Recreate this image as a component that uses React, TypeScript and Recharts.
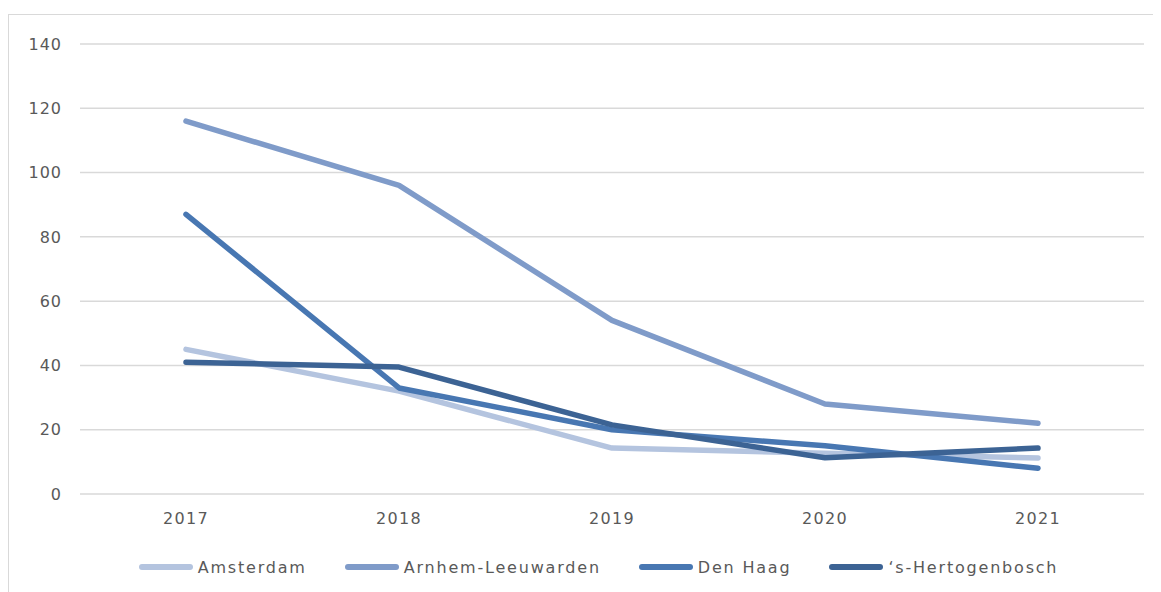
import React from 'react';
import { LineChart, Line, XAxis, YAxis, CartesianGrid, Legend } from 'recharts';

const years = ['2017', '2018', '2019', '2020', '2021'];
const amsterdam = [45, 32, 14.3, 12.7, 11.2];
const arnhemLeeuwarden = [116, 96, 54, 28, 22];
const denHaag = [87, 33, 20, 15, 8];
const hertogenbosch = [41, 39.5, 21.5, 11.3, 14.3];
const yTicks = [0, 20, 40, 60, 80, 100, 120, 140];

const seriesList = [
  { key: 'amsterdam', name: 'Amsterdam', color: '#b4c4df' },
  { key: 'arnhem', name: 'Arnhem-Leeuwarden', color: '#7f9bc9' },
  { key: 'denhaag', name: 'Den Haag', color: '#4877b2' },
  { key: 'hertogenbosch', name: '‘s-Hertogenbosch', color: '#3c6394' }
];

const data = years.map((year, i) => ({
  year,
  amsterdam: amsterdam[i],
  arnhem: arnhemLeeuwarden[i],
  denhaag: denHaag[i],
  hertogenbosch: hertogenbosch[i]
}));

const font = '"DejaVu Sans", Verdana, sans-serif';

const renderLegend = () => (
  <div
    style={{
      display: 'flex',
      justifyContent: 'center',
      alignItems: 'center',
      height: 24,
      paddingLeft: 44,
      fontFamily: font,
      fontSize: 16,
      letterSpacing: 1.8,
      color: '#595959'
    }}
  >
    {seriesList.map((s) => (
      <div key={s.key} style={{ display: 'flex', alignItems: 'center', margin: '0 19px' }}>
        <div style={{ width: 54, height: 6, borderRadius: 3, background: s.color, marginRight: 5 }} />
        <span>{s.name}</span>
      </div>
    ))}
  </div>
);

export default function App() {
  return (
    <div style={{ width: 1153, height: 584, overflow: 'hidden' }}>
      <div
        style={{
          marginTop: 6,
          borderTop: '1px solid #d9d9d9',
          borderLeft: '1px solid #d9d9d9',
          width: 1152,
          height: 578,
          background: '#fff'
        }}
      >
        <LineChart
          width={1152}
          height={577}
          data={data}
          margin={{ top: 29, right: 17, left: 0, bottom: 13 }}
        >
          <CartesianGrid vertical={false} stroke="#d9d9d9" strokeWidth={1.5} />
          <XAxis
            dataKey="year"
            axisLine={false}
            tickLine={false}
            height={61}
            tickMargin={13}
            padding={{ left: 106, right: 106 }}
            tick={{ fill: '#595959', fontSize: 16, fontFamily: font, letterSpacing: 1.3 }}
          />
          <YAxis
            domain={[0, 140]}
            ticks={yTicks}
            width={71}
            axisLine={false}
            tickLine={false}
            tickMargin={12}
            tick={{ fill: '#595959', fontSize: 16, fontFamily: font, letterSpacing: 1 }}
          />
          <Legend verticalAlign="bottom" content={renderLegend} />
          {seriesList.map((s) => (
            <Line
              key={s.key}
              dataKey={s.key}
              name={s.name}
              stroke={s.color}
              strokeWidth={5.5}
              strokeLinecap="round"
              strokeLinejoin="round"
              dot={false}
              activeDot={false}
              type="linear"
              isAnimationActive={false}
            />
          ))}
        </LineChart>
      </div>
    </div>
  );
}
